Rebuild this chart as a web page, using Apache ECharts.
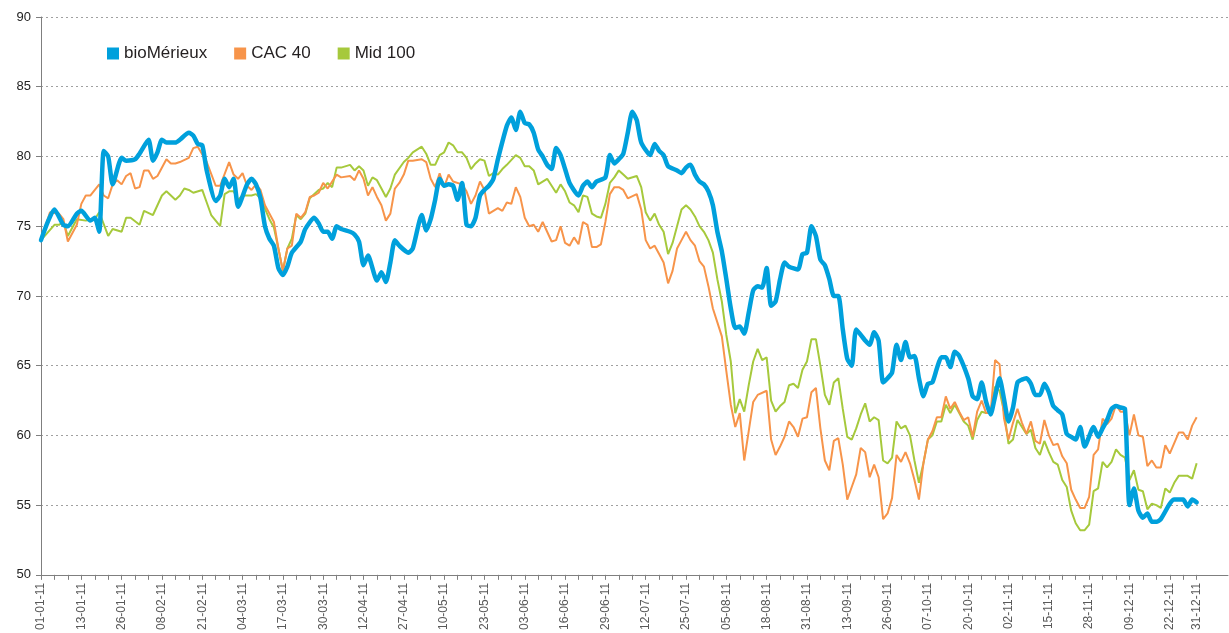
<!DOCTYPE html>
<html>
<head>
<meta charset="utf-8">
<script src="https://cdn.jsdelivr.net/npm/echarts@6.0.0/dist/echarts.min.js"></script>
<style>
  html, body { margin: 0; padding: 0; background: #fff; }
  #chart { width: 1229px; height: 633px; }
</style>
</head>
<body>
<div id="chart"></div>
<script>
// date labels, one every 9 trading days (the last one comes 6 days after the previous)
const tickLabels = [
  '01-01-11', '13-01-11', '26-01-11', '08-02-11', '21-02-11', '04-03-11',
  '17-03-11', '30-03-11', '12-04-11', '27-04-11', '10-05-11', '23-05-11',
  '03-06-11', '16-06-11', '29-06-11', '12-07-11', '25-07-11', '05-08-11',
  '18-08-11', '31-08-11', '13-09-11', '26-09-11', '07-10-11', '20-10-11',
  '02-11-11', '15-11-11', '28-11-11', '09-12-11', '22-12-11', '31-12-11'
]
const lastDay = 258 // trading day index of 31-12-11

// [trading day, value]
const bioMerieux = [
  [0, 74.0], [3, 76.2], [5, 75.1], [6, 75.0], [8, 75.9], [9, 76.1], [11, 75.4], [12, 75.6],
  [13, 74.6], [14, 80.4], [15, 80.0], [16, 78.0], [18, 79.9], [19, 79.7], [21, 79.8], [22, 80.2],
  [24, 81.2], [25, 79.7], [26, 80.3], [27, 81.2], [28, 81.0], [30, 81.0], [31, 81.2], [33, 81.7],
  [34, 81.5], [35, 80.9], [36, 80.8], [37, 79.0], [39, 76.8], [40, 77.2], [41, 78.4], [42, 77.8],
  [43, 78.4], [44, 76.4], [46, 78.0], [47, 78.4], [48, 78.0], [49, 77.0], [50, 75.0], [51, 74.1],
  [52, 73.6], [53, 72.0], [54, 71.5], [55, 72.1], [56, 73.1], [58, 73.9], [59, 74.8], [61, 75.6],
  [62, 75.2], [63, 74.6], [64, 74.6], [65, 74.1], [66, 75.0], [67, 74.8], [69, 74.6], [70, 74.4],
  [71, 73.9], [72, 72.2], [73, 72.9], [75, 71.1], [76, 71.7], [77, 71.0], [78, 72.4], [79, 74.0],
  [80, 73.6], [82, 73.1], [83, 73.4], [85, 75.8], [86, 74.7], [87, 75.5], [88, 76.9], [89, 78.4],
  [90, 77.9], [91, 78.0], [92, 77.9], [93, 76.9], [94, 78.1], [95, 75.1], [96, 75.0], [97, 75.6],
  [98, 77.2], [99, 77.6], [100, 77.9], [101, 78.4], [102, 79.8], [104, 82.2], [105, 82.8], [106, 81.9],
  [107, 83.2], [108, 82.4], [109, 82.3], [110, 81.7], [111, 80.5], [112, 80.0], [113, 79.4], [114, 79.1],
  [115, 80.6], [116, 80.1], [117, 79.1], [118, 78.1], [120, 77.2], [121, 77.9], [122, 78.2], [123, 77.8],
  [124, 78.2], [126, 78.5], [127, 80.1], [128, 79.5], [129, 79.8], [130, 80.2], [131, 81.7], [132, 83.2],
  [133, 82.6], [134, 81.0], [136, 80.1], [137, 80.9], [138, 80.4], [139, 80.1], [140, 79.3], [142, 79.0],
  [143, 78.8], [144, 79.2], [145, 79.4], [146, 78.7], [147, 78.2], [148, 78.0], [149, 77.5], [150, 76.5],
  [151, 74.6], [152, 73.2], [153, 71.2], [154, 69.1], [155, 67.7], [156, 67.8], [157, 67.3], [158, 68.8],
  [159, 70.4], [160, 70.7], [161, 70.6], [162, 72.0], [163, 69.3], [164, 69.6], [165, 71.2], [166, 72.4],
  [167, 72.1], [169, 71.9], [170, 73.0], [171, 73.1], [172, 75.0], [173, 74.3], [174, 72.6], [175, 72.2],
  [176, 71.2], [177, 70.0], [178, 70.0], [179, 67.6], [180, 65.5], [181, 65.0], [182, 67.6], [184, 66.8],
  [185, 66.5], [186, 67.4], [187, 66.8], [188, 63.8], [189, 64.1], [190, 64.5], [191, 66.5], [192, 65.4],
  [193, 66.7], [194, 65.6], [195, 65.7], [196, 64.1], [197, 62.8], [198, 63.7], [199, 63.8], [200, 64.8],
  [201, 65.6], [202, 65.6], [203, 64.9], [204, 66.0], [205, 65.7], [207, 64.1], [208, 62.8], [209, 62.6],
  [210, 63.8], [211, 62.4], [212, 61.5], [213, 62.8], [214, 64.1], [215, 62.6], [216, 61.0], [217, 62.0],
  [218, 63.8], [219, 64.0], [220, 64.1], [221, 63.7], [222, 62.9], [223, 62.9], [224, 63.7], [225, 63.1],
  [226, 62.1], [227, 61.8], [228, 61.5], [229, 60.1], [230, 59.9], [231, 59.7], [232, 60.6], [233, 59.2],
  [235, 60.6], [236, 59.9], [237, 60.5], [238, 61.1], [239, 61.9], [240, 62.1], [241, 62.0], [242, 61.9],
  [243, 55.0], [244, 56.2], [245, 54.6], [246, 54.1], [247, 54.4], [248, 53.8], [249, 53.8], [250, 54.0],
  [252, 55.1], [253, 55.4], [254, 55.4], [255, 55.4], [256, 54.9], [257, 55.4], [258, 55.2]
]

const cac40 = [
  [0, 74.0], [2, 76.0], [4, 75.9], [5, 75.5], [6, 73.9], [8, 75.1], [9, 76.6], [10, 77.2],
  [11, 77.2], [13, 78.0], [14, 77.2], [15, 77.0], [16, 78.0], [17, 78.3], [18, 78.0], [19, 78.6],
  [20, 78.8], [21, 77.7], [22, 77.8], [23, 79.0], [24, 79.0], [25, 78.4], [26, 78.6], [28, 79.8],
  [29, 79.5], [30, 79.5], [31, 79.6], [33, 79.9], [34, 80.6], [35, 80.7], [37, 79.6], [39, 77.9],
  [40, 77.9], [42, 79.6], [43, 78.7], [44, 78.4], [45, 78.8], [46, 77.9], [47, 77.6], [48, 78.0],
  [49, 77.6], [50, 76.5], [52, 75.3], [53, 73.4], [54, 71.8], [55, 73.4], [56, 73.6], [57, 75.9],
  [58, 75.6], [59, 76.0], [60, 77.1], [61, 77.2], [62, 77.4], [63, 78.1], [64, 77.7], [66, 78.7],
  [67, 78.5], [69, 78.6], [70, 78.3], [71, 79.0], [72, 78.4], [73, 77.2], [74, 77.8], [75, 77.1],
  [76, 76.5], [77, 75.4], [78, 75.9], [79, 77.7], [80, 78.1], [81, 78.7], [82, 79.7], [83, 79.7],
  [85, 79.8], [86, 79.6], [87, 78.4], [88, 77.8], [89, 78.8], [90, 77.8], [91, 78.7], [92, 78.2],
  [94, 78.0], [95, 77.5], [96, 76.6], [97, 77.2], [98, 78.2], [99, 77.6], [100, 75.9], [101, 76.1],
  [102, 76.3], [103, 76.1], [104, 76.7], [105, 76.6], [106, 77.8], [107, 77.1], [108, 75.6], [109, 75.0],
  [110, 75.1], [111, 74.6], [112, 75.3], [114, 73.9], [115, 74.0], [116, 75.0], [117, 73.8], [118, 73.6],
  [119, 74.2], [120, 73.7], [121, 75.3], [122, 75.1], [123, 73.5], [124, 73.5], [125, 73.7], [126, 75.3],
  [127, 77.3], [128, 77.8], [129, 77.8], [130, 77.6], [131, 77.0], [133, 77.3], [134, 76.2], [135, 74.0],
  [136, 73.4], [137, 73.6], [138, 73.0], [139, 72.4], [140, 70.9], [141, 71.8], [142, 73.4], [143, 74.0],
  [144, 74.6], [145, 74.0], [146, 73.6], [147, 72.5], [148, 72.1], [149, 70.7], [150, 69.1], [151, 68.1],
  [152, 67.1], [153, 64.6], [154, 62.2], [155, 60.6], [156, 61.6], [157, 58.2], [158, 60.3], [159, 62.4],
  [160, 62.9], [162, 63.2], [163, 59.7], [164, 58.6], [165, 59.2], [166, 59.9], [167, 61.0], [168, 60.6],
  [169, 59.9], [170, 61.2], [171, 61.3], [172, 63.1], [173, 63.4], [174, 60.5], [175, 58.2], [176, 57.5],
  [177, 59.6], [178, 59.8], [179, 57.9], [180, 55.4], [181, 56.3], [182, 57.2], [183, 59.1], [184, 58.8],
  [185, 57.0], [186, 57.9], [187, 57.0], [188, 54.0], [189, 54.4], [190, 55.5], [191, 58.6], [192, 58.1],
  [193, 58.8], [194, 58.0], [195, 56.8], [196, 55.4], [197, 58.0], [198, 59.7], [199, 60.3], [200, 61.3],
  [201, 61.3], [202, 62.8], [203, 61.9], [204, 62.4], [205, 61.7], [206, 61.1], [207, 61.3], [208, 59.9],
  [209, 61.7], [210, 62.5], [211, 61.6], [212, 61.6], [213, 65.4], [214, 65.1], [215, 61.2], [216, 59.7],
  [217, 60.9], [218, 61.9], [219, 60.9], [220, 60.1], [221, 61.0], [222, 59.6], [223, 59.4], [224, 61.1],
  [225, 60.0], [226, 59.3], [227, 59.4], [228, 58.5], [229, 58.0], [230, 56.1], [231, 55.4], [232, 54.8],
  [233, 54.8], [234, 55.6], [235, 58.6], [236, 59.0], [237, 61.2], [238, 60.8], [239, 61.2], [240, 62.2],
  [241, 61.7], [242, 61.7], [243, 60.0], [244, 61.5], [245, 60.0], [246, 59.9], [247, 57.8], [248, 58.2],
  [249, 57.7], [250, 57.7], [251, 59.3], [252, 58.7], [254, 60.2], [255, 60.2], [256, 59.7], [257, 60.7],
  [258, 61.3]
]

const mid100 = [
  [0, 74.0], [3, 75.1], [4, 75.1], [5, 75.3], [6, 74.3], [8, 75.5], [10, 75.4], [12, 75.5],
  [13, 76.0], [15, 74.3], [16, 74.8], [18, 74.6], [19, 75.6], [20, 75.6], [22, 75.1], [23, 76.1],
  [25, 75.8], [27, 77.2], [28, 77.5], [30, 76.9], [31, 77.2], [32, 77.7], [33, 77.6], [34, 77.4],
  [36, 77.6], [37, 76.7], [38, 75.8], [40, 75.0], [41, 77.3], [42, 77.5], [43, 77.5], [44, 76.9],
  [45, 77.2], [47, 77.2], [48, 77.3], [49, 77.0], [51, 75.5], [52, 74.9], [53, 73.4], [54, 71.8],
  [55, 73.4], [56, 74.1], [57, 75.8], [58, 75.5], [59, 75.9], [60, 77.0], [62, 77.6], [63, 77.7],
  [64, 78.1], [65, 77.8], [66, 79.2], [67, 79.2], [69, 79.4], [70, 79.0], [71, 79.3], [72, 79.0],
  [73, 77.9], [74, 78.5], [75, 78.3], [76, 77.7], [77, 77.1], [78, 77.7], [79, 78.7], [81, 79.6],
  [82, 79.9], [83, 80.3], [85, 80.7], [86, 80.2], [87, 79.4], [88, 79.4], [89, 80.1], [90, 80.3],
  [91, 81.0], [92, 80.8], [93, 80.3], [94, 80.3], [95, 79.9], [96, 79.1], [97, 79.5], [98, 79.8],
  [99, 79.7], [100, 78.6], [101, 78.8], [102, 78.7], [103, 79.1], [104, 79.4], [106, 80.1], [107, 79.9],
  [108, 79.3], [109, 79.3], [110, 79.0], [111, 78.0], [113, 78.4], [114, 77.9], [115, 77.4], [116, 78.0],
  [117, 77.5], [118, 76.7], [119, 76.5], [120, 76.0], [121, 77.2], [122, 77.1], [123, 75.9], [124, 75.7],
  [125, 75.6], [126, 76.6], [127, 78.1], [128, 78.5], [129, 79.0], [130, 78.7], [131, 78.4], [133, 78.6],
  [134, 77.8], [135, 76.0], [136, 75.4], [137, 75.9], [138, 75.1], [139, 74.6], [140, 73.0], [141, 73.8],
  [142, 75.0], [143, 76.2], [144, 76.5], [145, 76.2], [146, 75.7], [147, 75.0], [148, 74.6], [149, 74.0],
  [150, 73.1], [151, 71.2], [152, 69.6], [153, 67.2], [154, 65.3], [155, 61.6], [156, 62.6], [157, 61.7],
  [158, 63.6], [159, 65.3], [160, 66.2], [161, 65.4], [162, 65.6], [163, 62.5], [164, 61.7], [165, 62.1],
  [166, 62.4], [167, 63.6], [168, 63.7], [169, 63.4], [170, 64.7], [171, 65.3], [172, 66.9], [173, 66.9],
  [174, 65.0], [175, 62.9], [176, 62.2], [177, 63.8], [178, 64.1], [179, 61.9], [180, 59.9], [181, 59.7],
  [182, 60.5], [183, 61.5], [184, 62.3], [185, 61.0], [186, 61.3], [187, 61.1], [188, 58.2], [189, 58.0],
  [190, 58.4], [191, 61.0], [192, 60.5], [193, 60.7], [194, 60.0], [195, 58.2], [196, 56.6], [197, 58.0],
  [198, 59.7], [199, 60.0], [200, 61.0], [201, 61.0], [202, 62.2], [203, 61.6], [204, 62.2], [205, 61.6],
  [206, 61.0], [207, 60.7], [208, 59.7], [209, 61.1], [210, 61.7], [211, 61.6], [212, 61.6], [213, 63.5],
  [214, 63.2], [215, 61.7], [216, 59.4], [217, 59.7], [218, 61.1], [219, 60.6], [220, 60.1], [221, 60.4],
  [222, 59.1], [223, 58.6], [224, 59.6], [225, 58.8], [226, 58.1], [227, 57.9], [228, 56.8], [229, 56.3],
  [230, 54.6], [231, 53.7], [232, 53.2], [233, 53.2], [234, 53.6], [235, 56.0], [236, 56.2], [237, 58.1],
  [238, 57.7], [239, 58.1], [240, 59.0], [241, 58.6], [242, 58.4], [243, 56.8], [244, 57.5], [245, 56.1],
  [246, 56.0], [247, 54.7], [248, 55.1], [249, 55.0], [250, 54.8], [251, 56.2], [252, 55.9], [253, 56.6],
  [254, 57.1], [255, 57.1], [256, 57.1], [257, 56.9], [258, 58.0]
]

// one category per trading day; the plot runs a few days past the last date
const dayCount = lastDay + 8
const categories = []
for (let d = 0; d < dayCount; d++) {
  let name = ''
  if (d % 9 === 0 && d / 9 < tickLabels.length - 1) name = tickLabels[d / 9]
  if (d === lastDay) name = tickLabels[tickLabels.length - 1]
  categories.push(name)
}

const chart = echarts.init(document.getElementById('chart'))

chart.setOption({
  animation: false,
  grid: { left: 41, right: 1, top: 17, bottom: 56 },
  legend: {
    left: 102,
    top: 40,
    icon: 'rect',
    itemWidth: 12,
    itemHeight: 12,
    itemGap: 27,
    textStyle: { fontFamily: "'Liberation Sans', Arial, sans-serif", fontSize: 17, color: '#231f20' },
    data: ['bioMérieux', 'CAC 40', 'Mid 100']
  },
  xAxis: {
    type: 'category',
    boundaryGap: false,
    data: categories,
    axisLine: { lineStyle: { color: '#7f7f7f', width: 1 } },
    axisTick: {
      interval: (i) => i % 3 === 0 && i <= lastDay,
      length: 5,
      lineStyle: { color: '#7f7f7f' }
    },
    axisLabel: {
      interval: 0,
      rotate: 90,
      margin: 8,
      fontFamily: "'Liberation Sans', Arial, sans-serif",
      fontSize: 12,
      color: '#595959'
    },
    splitLine: { show: false }
  },
  yAxis: {
    type: 'value',
    min: 50,
    max: 90,
    interval: 5,
    axisLine: { show: true, lineStyle: { color: '#7f7f7f', width: 1 } },
    axisTick: { show: true, length: 5, lineStyle: { color: '#7f7f7f' } },
    axisLabel: {
      margin: 10,
      fontFamily: "'Liberation Sans', Arial, sans-serif",
      fontSize: 13,
      color: '#222'
    },
    splitLine: { lineStyle: { color: '#a0a0a0', type: [2, 3], width: 1 } }
  },
  series: [
    {
      name: 'bioMérieux',
      type: 'line',
      data: bioMerieux,
      symbol: 'none',
      smooth: 0.2,
      color: '#00a0dc',
      lineStyle: { width: 4.5, cap: 'round', join: 'round' },
      z: 3
    },
    {
      name: 'CAC 40',
      type: 'line',
      data: cac40,
      symbol: 'none',
      color: '#f7944a',
      lineStyle: { width: 2 },
      z: 2
    },
    {
      name: 'Mid 100',
      type: 'line',
      data: mid100,
      symbol: 'none',
      color: '#a6c93c',
      lineStyle: { width: 2 },
      z: 1
    }
  ]
})
</script>
</body>
</html>
